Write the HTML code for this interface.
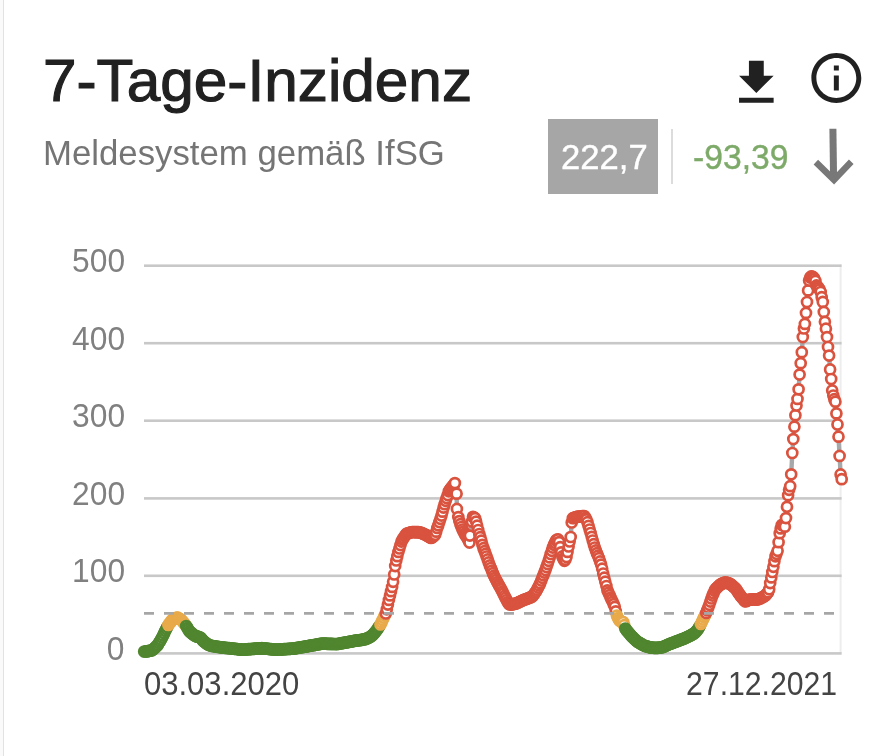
<!DOCTYPE html>
<html lang="de"><head><meta charset="utf-8"><title>7-Tage-Inzidenz</title>
<style>
html,body{margin:0;padding:0;background:#fff;}
body{width:879px;height:756px;position:relative;overflow:hidden;font-family:"Liberation Sans",sans-serif;}
.edge{position:absolute;left:0;top:0;width:3px;height:756px;background:#fafafa;}
.edge2{position:absolute;left:3px;top:0;width:1px;height:756px;background:#e2e2e2;}
.t{position:absolute;white-space:nowrap;line-height:1;transform-origin:0 0;}
#title{left:43.2px;top:51.0px;font-size:60px;color:#212121;-webkit-text-stroke:1.1px #212121;transform:scaleX(1.005);}
#sub{left:43.4px;top:136.3px;font-size:36.1px;color:#757575;transform:scale(0.9637,0.96);}
#box{position:absolute;left:548px;top:119px;width:110px;height:74.6px;background:#a6a6a6;}
#val{left:560.6px;top:140.4px;font-size:36px;color:#fff;transform:scale(0.962,0.965);-webkit-text-stroke:0.4px #fff;}
#div{position:absolute;left:671.1px;top:129px;width:1.6px;height:55px;background:#dcdcdc;}
#delta{left:692.6px;top:140.4px;font-size:36px;color:#7daa69;transform:scale(0.935,0.965);-webkit-text-stroke:0.4px #7daa69;}
.yl{position:absolute;white-space:nowrap;line-height:1;font-size:33px;color:#808080;right:754.3px;transform-origin:100% 0;transform:scaleX(0.962);}
.xl{position:absolute;white-space:nowrap;line-height:1;font-size:33px;color:#444;}
svg{position:absolute;left:0;top:0;}
</style></head><body>
<div class="edge"></div><div class="edge2"></div>
<div id="title" class="t">7-Tage-Inzidenz</div>
<div id="sub" class="t">Meldesystem gemäß IfSG</div>
<div id="box"></div>
<div id="val" class="t">222,7</div>
<div id="div"></div>
<div id="delta" class="t">-93,39</div>
<div class="yl" id="y500" style="top:244.1px">500</div><div class="yl" id="y400" style="top:321.7px">400</div><div class="yl" id="y300" style="top:399.2px">300</div><div class="yl" id="y200" style="top:476.8px">200</div><div class="yl" id="y100" style="top:554.3px">100</div><div class="yl" id="y0" style="top:631.9px">0</div>
<div class="xl" id="x1" style="left:144px;top:667.4px;transform-origin:0 0;transform:scaleX(0.94)">03.03.2020</div>
<div class="xl" id="x2" style="right:41.6px;top:667.4px;transform-origin:100% 0;transform:scaleX(0.915)">27.12.2021</div>
<svg width="879" height="756" viewBox="0 0 879 756">
<g id="icons" fill="#212121">
<g transform="translate(726.7 53.4) scale(2.47)"><path d="M19 9h-4V3H9v6H5l7 7 7-7zM5 18v2h14v-2H5z"/></g>
<g transform="translate(806.4 48) scale(2.495)"><path d="M11 17h2v-6h-2v6zm1-15C6.48 2 2 6.48 2 12s4.480 10 10 10 10-4.480 10-10S17.520 2 12 2zm0 18c-4.410 0-8-3.590-8-8s3.590-8 8-8 8 3.590 8 8-3.590 8-8 8zM11 9h2V7h-2v2z"/></g>
</g>
<g id="arrow" fill="none" stroke="#787878">
<path d="M832.9 128.7 L833.6 180" stroke-width="7"/>
<path d="M815.85 162.15 L834 179.9 L851.25 161.75" stroke-width="6.4" stroke-linejoin="miter"/>
</g>
<rect x="839.6" y="264.4" width="2" height="390" fill="#ededed"/>
<rect x="144" y="264.4" width="697.6" height="2.6" fill="#c8c8c8"/><rect x="144" y="341.9" width="697.6" height="2.6" fill="#c8c8c8"/><rect x="144" y="419.4" width="697.6" height="2.6" fill="#c8c8c8"/><rect x="144" y="497.1" width="697.6" height="2.6" fill="#c8c8c8"/><rect x="144" y="574.5" width="697.6" height="2.6" fill="#c8c8c8"/><rect x="144" y="652.1" width="697.6" height="2.6" fill="#c8c8c8"/>
<path d="M144.2 651.5 L145.3 651.5 L146.3 651.4 L147.4 651.2 L148.4 651.0 L149.5 650.8 L150.5 650.6 L151.6 650.4 L152.6 649.8 L153.7 648.9 L154.7 647.9 L155.8 646.9 L156.8 645.9 L157.9 644.9 L158.9 643.1 L160.0 641.3 L161.0 639.5 L162.1 637.5 L163.1 635.4 L164.2 633.2 L165.2 631.1 L166.3 629.0 L167.3 626.9 L168.4 625.0 L169.4 623.6 L170.5 622.2 L171.5 620.8 L172.6 619.5 L173.6 619.0 L174.7 618.5 L175.7 618.0 L176.8 617.5 L177.8 617.7 L178.9 618.4 L179.9 619.0 L181.0 619.7 L182.0 620.7 L183.1 622.0 L184.1 623.3 L185.2 624.7 L186.2 626.0 L187.3 627.8 L188.3 629.5 L189.4 631.2 L190.4 632.2 L191.5 633.0 L192.5 633.9 L193.6 634.7 L194.6 635.5 L195.7 636.1 L196.7 636.4 L197.8 636.7 L198.8 637.0 L199.9 637.3 L200.9 638.1 L202.0 639.4 L203.0 640.7 L204.1 641.6 L205.1 642.4 L206.2 643.2 L207.2 644.0 L208.3 644.7 L209.3 645.1 L210.4 645.5 L211.4 645.8 L212.5 646.0 L213.5 646.1 L214.6 646.3 L215.6 646.5 L216.7 646.7 L217.7 646.9 L218.8 647.0 L219.8 647.1 L220.9 647.3 L221.9 647.4 L223.0 647.5 L224.0 647.7 L225.1 647.8 L226.1 647.9 L227.2 648.0 L228.2 648.1 L229.3 648.2 L230.3 648.3 L231.4 648.4 L232.4 648.5 L233.5 648.6 L234.5 648.8 L235.6 648.9 L236.6 649.0 L237.7 649.1 L238.7 649.3 L239.8 649.4 L240.8 649.6 L241.9 649.7 L242.9 649.6 L244.0 649.6 L245.0 649.5 L246.1 649.4 L247.1 649.3 L248.2 649.2 L249.2 649.2 L250.3 649.1 L251.3 649.0 L252.4 648.9 L253.4 648.8 L254.5 648.8 L255.5 648.7 L256.6 648.6 L257.6 648.5 L258.7 648.4 L259.7 648.4 L260.8 648.3 L261.8 648.2 L262.9 648.3 L263.9 648.4 L265.0 648.5 L266.0 648.6 L267.1 648.7 L268.1 648.8 L269.2 649.0 L270.2 649.1 L271.3 649.2 L272.3 649.3 L273.4 649.4 L274.4 649.5 L275.5 649.6 L276.6 649.7 L277.6 649.6 L278.7 649.5 L279.7 649.5 L280.8 649.4 L281.8 649.3 L282.9 649.3 L283.9 649.2 L285.0 649.1 L286.0 649.1 L287.1 649.0 L288.1 648.9 L289.2 648.9 L290.2 648.8 L291.3 648.7 L292.3 648.7 L293.4 648.6 L294.4 648.4 L295.5 648.2 L296.5 648.1 L297.6 647.9 L298.6 647.7 L299.7 647.5 L300.7 647.3 L301.8 647.2 L302.8 647.0 L303.9 646.8 L304.9 646.6 L306.0 646.4 L307.0 646.3 L308.1 646.1 L309.1 645.9 L310.2 645.7 L311.2 645.5 L312.3 645.3 L313.3 645.2 L314.4 645.0 L315.4 644.8 L316.5 644.6 L317.5 644.4 L318.6 644.2 L319.6 644.0 L320.7 643.8 L321.7 643.7 L322.8 643.6 L323.8 643.7 L324.9 643.7 L325.9 643.7 L327.0 643.8 L328.0 643.8 L329.1 643.8 L330.1 643.9 L331.2 643.9 L332.2 643.9 L333.3 644.0 L334.3 644.0 L335.4 644.0 L336.4 644.1 L337.5 644.0 L338.5 643.8 L339.6 643.6 L340.6 643.4 L341.7 643.2 L342.7 643.0 L343.8 642.8 L344.8 642.6 L345.9 642.4 L346.9 642.3 L348.0 642.1 L349.0 641.9 L350.1 641.7 L351.1 641.5 L352.2 641.3 L353.2 641.1 L354.3 640.9 L355.3 640.7 L356.4 640.6 L357.4 640.4 L358.5 640.3 L359.5 640.2 L360.6 640.0 L361.6 639.9 L362.7 639.6 L363.7 639.4 L364.8 639.2 L365.8 638.9 L366.9 638.5 L367.9 638.0 L369.0 637.5 L370.0 636.9 L371.1 636.2 L372.1 635.4 L373.2 634.6 L374.2 633.3 L375.3 632.1 L376.3 630.8 L377.4 629.2 L378.4 627.6 L379.5 626.0 L380.5 624.4 L381.6 622.2 L382.6 619.9 L383.7 617.7 L384.7 615.6 L385.8 613.5 L386.8 609.3 L387.9 604.6 L388.9 599.9 L390.0 595.4 L391.0 591.2 L392.1 586.9 L393.1 581.8 L394.2 574.5 L395.2 566.1 L396.3 560.5 L397.3 556.2 L398.4 551.9 L399.4 548.5 L400.5 545.1 L401.5 541.6 L402.6 539.4 L403.6 537.9 L404.7 536.3 L405.7 534.7 L406.8 533.6 L407.9 533.3 L408.9 533.0 L410.0 532.6 L411.0 532.3 L412.1 532.0 L413.1 532.0 L414.2 532.1 L415.2 532.1 L416.3 532.2 L417.3 532.2 L418.4 532.2 L419.4 532.3 L420.5 532.5 L421.5 532.9 L422.6 533.4 L423.6 533.9 L424.7 534.3 L425.7 534.8 L426.8 535.4 L427.8 536.1 L428.9 536.7 L429.9 537.3 L431.0 537.9 L432.0 537.6 L433.1 536.7 L434.1 535.8 L435.2 534.8 L436.2 531.7 L437.3 528.0 L438.3 525.3 L439.4 522.1 L440.4 518.8 L441.5 515.6 L442.5 511.7 L443.6 507.6 L444.6 504.2 L445.7 500.8 L446.7 498.1 L447.8 495.1 L448.8 491.3 L449.9 489.7 L450.9 488.2 L452.0 486.9 L453.0 485.7 L454.1 484.4 L454.9 483.1 L456.6 493.7 L456.9 508.9 L458.3 517.1 L459.3 521.1 L460.4 524.2 L461.4 527.0 L462.5 529.5 L463.5 531.6 L464.6 533.7 L465.6 535.4 L466.7 537.1 L467.7 538.8 L468.6 540.6 L469.5 542.6 L469.9 535.6 L471.9 521.6 L473.0 516.8 L474.0 517.5 L475.1 518.2 L476.1 521.6 L477.2 525.7 L478.2 530.0 L479.3 534.0 L480.3 537.2 L481.4 540.7 L482.4 544.8 L483.5 548.2 L484.5 551.1 L485.6 553.8 L486.6 556.5 L487.7 559.4 L488.7 562.4 L489.8 565.4 L490.8 568.0 L491.9 570.6 L492.9 573.2 L494.0 575.7 L495.0 577.8 L496.1 579.9 L497.1 582.1 L498.2 583.9 L499.2 585.7 L500.3 587.6 L501.3 589.5 L502.4 591.6 L503.4 593.7 L504.5 595.9 L505.5 597.9 L506.6 600.0 L507.6 602.1 L508.7 603.7 L509.7 604.5 L510.8 604.6 L511.8 604.4 L512.9 604.2 L513.9 604.0 L515.0 603.7 L516.0 603.5 L517.1 603.1 L518.1 602.6 L519.2 602.1 L520.2 601.5 L521.3 601.0 L522.3 600.5 L523.4 600.0 L524.4 599.6 L525.5 599.3 L526.5 598.9 L527.6 598.5 L528.6 598.1 L529.7 597.7 L530.7 597.2 L531.8 596.7 L532.8 596.1 L533.9 594.6 L534.9 593.1 L536.0 591.5 L537.0 589.7 L538.1 587.6 L539.2 585.4 L540.2 583.3 L541.3 580.6 L542.3 577.8 L543.4 575.2 L544.4 572.6 L545.5 570.1 L546.5 567.1 L547.6 563.9 L548.6 560.8 L549.7 557.4 L550.7 554.1 L551.8 550.8 L552.8 547.6 L553.9 544.8 L554.9 542.7 L556.0 540.6 L557.0 539.5 L558.1 539.4 L559.1 542.1 L560.2 547.2 L561.2 552.3 L562.3 556.4 L563.3 558.7 L564.4 560.8 L565.4 559.7 L566.5 557.0 L567.5 551.9 L568.6 546.5 L569.6 541.5 L570.7 537.0 L571.7 522.5 L572.8 518.2 L573.8 517.9 L574.9 517.5 L575.9 517.2 L577.0 516.8 L578.0 516.7 L579.1 516.6 L580.1 516.5 L581.2 516.3 L582.2 516.2 L583.3 516.1 L584.3 516.0 L585.4 517.8 L586.4 519.5 L587.5 522.2 L588.5 525.9 L589.6 529.5 L590.6 533.0 L591.7 536.8 L592.7 540.5 L593.8 544.2 L594.8 547.5 L595.9 550.4 L596.9 553.2 L598.0 555.7 L599.0 558.2 L600.1 561.4 L601.1 564.6 L602.2 568.7 L603.2 573.5 L604.3 577.7 L605.3 581.7 L606.4 586.0 L607.4 590.3 L608.5 592.7 L609.5 595.1 L610.6 597.6 L611.6 599.7 L612.7 601.8 L613.7 604.2 L614.8 606.8 L615.8 611.3 L616.9 615.6 L617.9 618.1 L619.0 619.9 L620.0 620.9 L621.1 621.5 L622.1 621.8 L623.2 622.1 L624.2 625.2 L625.3 628.6 L626.3 629.9 L627.4 631.2 L628.4 632.5 L629.5 633.8 L630.5 635.0 L631.6 636.2 L632.6 637.2 L633.7 638.2 L634.7 639.3 L635.8 640.3 L636.8 641.3 L637.9 642.0 L638.9 642.6 L640.0 643.2 L641.0 643.8 L642.1 644.4 L643.1 645.0 L644.2 645.6 L645.2 646.0 L646.3 646.3 L647.3 646.6 L648.4 646.9 L649.4 647.1 L650.5 647.4 L651.5 647.7 L652.6 647.7 L653.6 647.8 L654.7 647.8 L655.7 647.9 L656.8 647.9 L657.8 647.8 L658.9 647.7 L659.9 647.6 L661.0 647.5 L662.0 647.2 L663.1 646.9 L664.1 646.5 L665.2 646.0 L666.2 645.5 L667.3 645.0 L668.3 644.6 L669.4 644.1 L670.5 643.7 L671.5 643.3 L672.6 642.9 L673.6 642.5 L674.7 642.1 L675.7 641.7 L676.8 641.3 L677.8 640.9 L678.9 640.5 L679.9 640.1 L681.0 639.7 L682.0 639.3 L683.1 638.9 L684.1 638.5 L685.2 638.1 L686.2 637.6 L687.3 637.1 L688.3 636.5 L689.4 636.0 L690.4 635.5 L691.5 634.9 L692.5 634.3 L693.6 633.7 L694.6 633.1 L695.7 632.0 L696.7 630.8 L697.8 629.5 L698.8 627.7 L699.9 625.9 L700.9 623.9 L702.0 621.7 L703.0 619.5 L704.1 617.3 L705.1 615.2 L706.2 612.9 L707.2 610.2 L708.3 607.6 L709.3 604.8 L710.4 601.6 L711.4 598.5 L712.5 595.6 L713.5 593.2 L714.6 590.8 L715.6 589.1 L716.7 588.0 L717.7 587.0 L718.8 585.9 L719.8 584.9 L720.9 584.2 L721.9 583.7 L723.0 583.3 L724.0 582.8 L725.1 582.3 L726.1 582.5 L727.2 582.8 L728.2 583.2 L729.3 583.5 L730.3 583.9 L731.4 584.8 L732.4 585.7 L733.5 586.7 L734.5 587.6 L735.6 588.6 L736.6 590.1 L737.7 591.7 L738.7 593.2 L739.8 594.7 L740.8 596.2 L741.9 597.4 L742.9 598.7 L744.0 600.0 L745.0 601.3 L746.1 601.2 L747.1 600.7 L748.2 600.1 L749.2 599.7 L750.3 599.6 L751.3 599.5 L752.4 599.4 L753.4 599.4 L754.5 599.5 L755.5 599.5 L756.6 599.6 L757.6 599.4 L758.7 599.0 L759.7 598.6 L760.8 598.2 L761.8 597.6 L762.9 597.1 L763.9 596.4 L765.0 595.7 L766.0 595.0 L767.1 593.6 L768.1 592.3 L769.2 589.3 L770.2 583.1 L771.3 577.4 L772.3 572.0 L773.4 566.8 L774.4 561.2 L775.5 556.3 L776.5 553.8 L777.6 550.8 L778.6 542.2 L779.7 533.2 L780.7 528.4 L781.8 525.0 L782.8 524.6 L783.9 525.2 L784.9 526.7 L786.0 518.1 L787.0 506.8 L788.1 495.2 L789.1 489.8 L790.2 486.2 L791.2 474.3 L792.3 453.0 L793.3 439.1 L794.4 426.7 L795.4 415.2 L796.5 405.5 L797.5 398.9 L798.6 389.3 L799.6 374.6 L800.7 363.2 L801.8 352.2 L802.8 337.1 L803.9 328.5 L804.9 323.9 L806.0 312.9 L807.0 302.0 L808.1 290.4 L809.1 280.5 L810.2 277.6 L811.2 276.4 L812.3 276.5 L813.3 277.3 L814.4 278.8 L815.4 280.9 L816.5 285.4 L817.5 286.6 L818.6 287.9 L819.6 289.6 L820.7 292.0 L821.7 297.2 L822.8 301.9 L823.8 311.9 L824.9 321.8 L825.9 328.7 L827.0 337.1 L828.0 347.0 L829.1 355.6 L830.1 369.4 L831.2 379.0 L832.2 390.4 L833.3 395.5 L834.3 399.2 L835.4 401.7 L836.4 413.4 L837.5 424.5 L838.5 436.7 L839.6 455.9 L840.6 474.4 L841.7 479.2" fill="none" stroke="#a6a8aa" stroke-width="4.4" stroke-linejoin="round"/>
<g fill="#fff" stroke-width="2.7">
<g stroke="#50862f"><circle cx="144.2" cy="651.5" r="5"/><circle cx="145.3" cy="651.5" r="5"/><circle cx="146.3" cy="651.4" r="5"/><circle cx="147.4" cy="651.2" r="5"/><circle cx="148.4" cy="651.0" r="5"/><circle cx="149.5" cy="650.8" r="5"/><circle cx="150.5" cy="650.6" r="5"/><circle cx="151.6" cy="650.4" r="5"/><circle cx="152.6" cy="649.8" r="5"/><circle cx="153.7" cy="648.9" r="5"/><circle cx="154.7" cy="647.9" r="5"/><circle cx="155.8" cy="646.9" r="5"/><circle cx="156.8" cy="645.9" r="5"/><circle cx="157.9" cy="644.9" r="5"/><circle cx="158.9" cy="643.1" r="5"/><circle cx="160.0" cy="641.3" r="5"/><circle cx="161.0" cy="639.5" r="5"/><circle cx="162.1" cy="637.5" r="5"/><circle cx="163.1" cy="635.4" r="5"/><circle cx="164.2" cy="633.2" r="5"/><circle cx="165.2" cy="631.1" r="5"/><circle cx="166.3" cy="629.0" r="5"/><circle cx="167.3" cy="626.9" r="5"/></g><g stroke="#e8aa4a"><circle cx="168.4" cy="625.0" r="5"/><circle cx="169.4" cy="623.6" r="5"/><circle cx="170.5" cy="622.2" r="5"/><circle cx="171.5" cy="620.8" r="5"/><circle cx="172.6" cy="619.5" r="5"/><circle cx="173.6" cy="619.0" r="5"/><circle cx="174.7" cy="618.5" r="5"/><circle cx="175.7" cy="618.0" r="5"/><circle cx="176.8" cy="617.5" r="5"/><circle cx="177.8" cy="617.7" r="5"/><circle cx="178.9" cy="618.4" r="5"/><circle cx="179.9" cy="619.0" r="5"/><circle cx="181.0" cy="619.7" r="5"/><circle cx="182.0" cy="620.7" r="5"/><circle cx="183.1" cy="622.0" r="5"/><circle cx="184.1" cy="623.3" r="5"/><circle cx="185.2" cy="624.7" r="5"/></g><g stroke="#50862f"><circle cx="186.2" cy="626.0" r="5"/><circle cx="187.3" cy="627.8" r="5"/><circle cx="188.3" cy="629.5" r="5"/><circle cx="189.4" cy="631.2" r="5"/><circle cx="190.4" cy="632.2" r="5"/><circle cx="191.5" cy="633.0" r="5"/><circle cx="192.5" cy="633.9" r="5"/><circle cx="193.6" cy="634.7" r="5"/><circle cx="194.6" cy="635.5" r="5"/><circle cx="195.7" cy="636.1" r="5"/><circle cx="196.7" cy="636.4" r="5"/><circle cx="197.8" cy="636.7" r="5"/><circle cx="198.8" cy="637.0" r="5"/><circle cx="199.9" cy="637.3" r="5"/><circle cx="200.9" cy="638.1" r="5"/><circle cx="202.0" cy="639.4" r="5"/><circle cx="203.0" cy="640.7" r="5"/><circle cx="204.1" cy="641.6" r="5"/><circle cx="205.1" cy="642.4" r="5"/><circle cx="206.2" cy="643.2" r="5"/><circle cx="207.2" cy="644.0" r="5"/><circle cx="208.3" cy="644.7" r="5"/><circle cx="209.3" cy="645.1" r="5"/><circle cx="210.4" cy="645.5" r="5"/><circle cx="211.4" cy="645.8" r="5"/><circle cx="212.5" cy="646.0" r="5"/><circle cx="213.5" cy="646.1" r="5"/><circle cx="214.6" cy="646.3" r="5"/><circle cx="215.6" cy="646.5" r="5"/><circle cx="216.7" cy="646.7" r="5"/><circle cx="217.7" cy="646.9" r="5"/><circle cx="218.8" cy="647.0" r="5"/><circle cx="219.8" cy="647.1" r="5"/><circle cx="220.9" cy="647.3" r="5"/><circle cx="221.9" cy="647.4" r="5"/><circle cx="223.0" cy="647.5" r="5"/><circle cx="224.0" cy="647.7" r="5"/><circle cx="225.1" cy="647.8" r="5"/><circle cx="226.1" cy="647.9" r="5"/><circle cx="227.2" cy="648.0" r="5"/><circle cx="228.2" cy="648.1" r="5"/><circle cx="229.3" cy="648.2" r="5"/><circle cx="230.3" cy="648.3" r="5"/><circle cx="231.4" cy="648.4" r="5"/><circle cx="232.4" cy="648.5" r="5"/><circle cx="233.5" cy="648.6" r="5"/><circle cx="234.5" cy="648.8" r="5"/><circle cx="235.6" cy="648.9" r="5"/><circle cx="236.6" cy="649.0" r="5"/><circle cx="237.7" cy="649.1" r="5"/><circle cx="238.7" cy="649.3" r="5"/><circle cx="239.8" cy="649.4" r="5"/><circle cx="240.8" cy="649.6" r="5"/><circle cx="241.9" cy="649.7" r="5"/><circle cx="242.9" cy="649.6" r="5"/><circle cx="244.0" cy="649.6" r="5"/><circle cx="245.0" cy="649.5" r="5"/><circle cx="246.1" cy="649.4" r="5"/><circle cx="247.1" cy="649.3" r="5"/><circle cx="248.2" cy="649.2" r="5"/><circle cx="249.2" cy="649.2" r="5"/><circle cx="250.3" cy="649.1" r="5"/><circle cx="251.3" cy="649.0" r="5"/><circle cx="252.4" cy="648.9" r="5"/><circle cx="253.4" cy="648.8" r="5"/><circle cx="254.5" cy="648.8" r="5"/><circle cx="255.5" cy="648.7" r="5"/><circle cx="256.6" cy="648.6" r="5"/><circle cx="257.6" cy="648.5" r="5"/><circle cx="258.7" cy="648.4" r="5"/><circle cx="259.7" cy="648.4" r="5"/><circle cx="260.8" cy="648.3" r="5"/><circle cx="261.8" cy="648.2" r="5"/><circle cx="262.9" cy="648.3" r="5"/><circle cx="263.9" cy="648.4" r="5"/><circle cx="265.0" cy="648.5" r="5"/><circle cx="266.0" cy="648.6" r="5"/><circle cx="267.1" cy="648.7" r="5"/><circle cx="268.1" cy="648.8" r="5"/><circle cx="269.2" cy="649.0" r="5"/><circle cx="270.2" cy="649.1" r="5"/><circle cx="271.3" cy="649.2" r="5"/><circle cx="272.3" cy="649.3" r="5"/><circle cx="273.4" cy="649.4" r="5"/><circle cx="274.4" cy="649.5" r="5"/><circle cx="275.5" cy="649.6" r="5"/><circle cx="276.6" cy="649.7" r="5"/><circle cx="277.6" cy="649.6" r="5"/><circle cx="278.7" cy="649.5" r="5"/><circle cx="279.7" cy="649.5" r="5"/><circle cx="280.8" cy="649.4" r="5"/><circle cx="281.8" cy="649.3" r="5"/><circle cx="282.9" cy="649.3" r="5"/><circle cx="283.9" cy="649.2" r="5"/><circle cx="285.0" cy="649.1" r="5"/><circle cx="286.0" cy="649.1" r="5"/><circle cx="287.1" cy="649.0" r="5"/><circle cx="288.1" cy="648.9" r="5"/><circle cx="289.2" cy="648.9" r="5"/><circle cx="290.2" cy="648.8" r="5"/><circle cx="291.3" cy="648.7" r="5"/><circle cx="292.3" cy="648.7" r="5"/><circle cx="293.4" cy="648.6" r="5"/><circle cx="294.4" cy="648.4" r="5"/><circle cx="295.5" cy="648.2" r="5"/><circle cx="296.5" cy="648.1" r="5"/><circle cx="297.6" cy="647.9" r="5"/><circle cx="298.6" cy="647.7" r="5"/><circle cx="299.7" cy="647.5" r="5"/><circle cx="300.7" cy="647.3" r="5"/><circle cx="301.8" cy="647.2" r="5"/><circle cx="302.8" cy="647.0" r="5"/><circle cx="303.9" cy="646.8" r="5"/><circle cx="304.9" cy="646.6" r="5"/><circle cx="306.0" cy="646.4" r="5"/><circle cx="307.0" cy="646.3" r="5"/><circle cx="308.1" cy="646.1" r="5"/><circle cx="309.1" cy="645.9" r="5"/><circle cx="310.2" cy="645.7" r="5"/><circle cx="311.2" cy="645.5" r="5"/><circle cx="312.3" cy="645.3" r="5"/><circle cx="313.3" cy="645.2" r="5"/><circle cx="314.4" cy="645.0" r="5"/><circle cx="315.4" cy="644.8" r="5"/><circle cx="316.5" cy="644.6" r="5"/><circle cx="317.5" cy="644.4" r="5"/><circle cx="318.6" cy="644.2" r="5"/><circle cx="319.6" cy="644.0" r="5"/><circle cx="320.7" cy="643.8" r="5"/><circle cx="321.7" cy="643.7" r="5"/><circle cx="322.8" cy="643.6" r="5"/><circle cx="323.8" cy="643.7" r="5"/><circle cx="324.9" cy="643.7" r="5"/><circle cx="325.9" cy="643.7" r="5"/><circle cx="327.0" cy="643.8" r="5"/><circle cx="328.0" cy="643.8" r="5"/><circle cx="329.1" cy="643.8" r="5"/><circle cx="330.1" cy="643.9" r="5"/><circle cx="331.2" cy="643.9" r="5"/><circle cx="332.2" cy="643.9" r="5"/><circle cx="333.3" cy="644.0" r="5"/><circle cx="334.3" cy="644.0" r="5"/><circle cx="335.4" cy="644.0" r="5"/><circle cx="336.4" cy="644.1" r="5"/><circle cx="337.5" cy="644.0" r="5"/><circle cx="338.5" cy="643.8" r="5"/><circle cx="339.6" cy="643.6" r="5"/><circle cx="340.6" cy="643.4" r="5"/><circle cx="341.7" cy="643.2" r="5"/><circle cx="342.7" cy="643.0" r="5"/><circle cx="343.8" cy="642.8" r="5"/><circle cx="344.8" cy="642.6" r="5"/><circle cx="345.9" cy="642.4" r="5"/><circle cx="346.9" cy="642.3" r="5"/><circle cx="348.0" cy="642.1" r="5"/><circle cx="349.0" cy="641.9" r="5"/><circle cx="350.1" cy="641.7" r="5"/><circle cx="351.1" cy="641.5" r="5"/><circle cx="352.2" cy="641.3" r="5"/><circle cx="353.2" cy="641.1" r="5"/><circle cx="354.3" cy="640.9" r="5"/><circle cx="355.3" cy="640.7" r="5"/><circle cx="356.4" cy="640.6" r="5"/><circle cx="357.4" cy="640.4" r="5"/><circle cx="358.5" cy="640.3" r="5"/><circle cx="359.5" cy="640.2" r="5"/><circle cx="360.6" cy="640.0" r="5"/><circle cx="361.6" cy="639.9" r="5"/><circle cx="362.7" cy="639.6" r="5"/><circle cx="363.7" cy="639.4" r="5"/><circle cx="364.8" cy="639.2" r="5"/><circle cx="365.8" cy="638.9" r="5"/><circle cx="366.9" cy="638.5" r="5"/><circle cx="367.9" cy="638.0" r="5"/><circle cx="369.0" cy="637.5" r="5"/><circle cx="370.0" cy="636.9" r="5"/><circle cx="371.1" cy="636.2" r="5"/><circle cx="372.1" cy="635.4" r="5"/><circle cx="373.2" cy="634.6" r="5"/><circle cx="374.2" cy="633.3" r="5"/><circle cx="375.3" cy="632.1" r="5"/><circle cx="376.3" cy="630.8" r="5"/><circle cx="377.4" cy="629.2" r="5"/><circle cx="378.4" cy="627.6" r="5"/><circle cx="379.5" cy="626.0" r="5"/></g><g stroke="#e8aa4a"><circle cx="380.5" cy="624.4" r="5"/><circle cx="381.6" cy="622.2" r="5"/><circle cx="382.6" cy="619.9" r="5"/><circle cx="383.7" cy="617.7" r="5"/><circle cx="384.7" cy="615.6" r="5"/></g><g stroke="#d9533f"><circle cx="385.8" cy="613.5" r="5"/><circle cx="386.8" cy="609.3" r="5"/><circle cx="387.9" cy="604.6" r="5"/><circle cx="388.9" cy="599.9" r="5"/><circle cx="390.0" cy="595.4" r="5"/><circle cx="391.0" cy="591.2" r="5"/><circle cx="392.1" cy="586.9" r="5"/><circle cx="393.1" cy="581.8" r="5"/><circle cx="394.2" cy="574.5" r="5"/><circle cx="395.2" cy="566.1" r="5"/><circle cx="396.3" cy="560.5" r="5"/><circle cx="397.3" cy="556.2" r="5"/><circle cx="398.4" cy="551.9" r="5"/><circle cx="399.4" cy="548.5" r="5"/><circle cx="400.5" cy="545.1" r="5"/><circle cx="401.5" cy="541.6" r="5"/><circle cx="402.6" cy="539.4" r="5"/><circle cx="403.6" cy="537.9" r="5"/><circle cx="404.7" cy="536.3" r="5"/><circle cx="405.7" cy="534.7" r="5"/><circle cx="406.8" cy="533.6" r="5"/><circle cx="407.9" cy="533.3" r="5"/><circle cx="408.9" cy="533.0" r="5"/><circle cx="410.0" cy="532.6" r="5"/><circle cx="411.0" cy="532.3" r="5"/><circle cx="412.1" cy="532.0" r="5"/><circle cx="413.1" cy="532.0" r="5"/><circle cx="414.2" cy="532.1" r="5"/><circle cx="415.2" cy="532.1" r="5"/><circle cx="416.3" cy="532.2" r="5"/><circle cx="417.3" cy="532.2" r="5"/><circle cx="418.4" cy="532.2" r="5"/><circle cx="419.4" cy="532.3" r="5"/><circle cx="420.5" cy="532.5" r="5"/><circle cx="421.5" cy="532.9" r="5"/><circle cx="422.6" cy="533.4" r="5"/><circle cx="423.6" cy="533.9" r="5"/><circle cx="424.7" cy="534.3" r="5"/><circle cx="425.7" cy="534.8" r="5"/><circle cx="426.8" cy="535.4" r="5"/><circle cx="427.8" cy="536.1" r="5"/><circle cx="428.9" cy="536.7" r="5"/><circle cx="429.9" cy="537.3" r="5"/><circle cx="431.0" cy="537.9" r="5"/><circle cx="432.0" cy="537.6" r="5"/><circle cx="433.1" cy="536.7" r="5"/><circle cx="434.1" cy="535.8" r="5"/><circle cx="435.2" cy="534.8" r="5"/><circle cx="436.2" cy="531.7" r="5"/><circle cx="437.3" cy="528.0" r="5"/><circle cx="438.3" cy="525.3" r="5"/><circle cx="439.4" cy="522.1" r="5"/><circle cx="440.4" cy="518.8" r="5"/><circle cx="441.5" cy="515.6" r="5"/><circle cx="442.5" cy="511.7" r="5"/><circle cx="443.6" cy="507.6" r="5"/><circle cx="444.6" cy="504.2" r="5"/><circle cx="445.7" cy="500.8" r="5"/><circle cx="446.7" cy="498.1" r="5"/><circle cx="447.8" cy="495.1" r="5"/><circle cx="448.8" cy="491.3" r="5"/><circle cx="449.9" cy="489.7" r="5"/><circle cx="450.9" cy="488.2" r="5"/><circle cx="452.0" cy="486.9" r="5"/><circle cx="453.0" cy="485.7" r="5"/><circle cx="454.1" cy="484.4" r="5"/><circle cx="454.9" cy="483.1" r="5"/><circle cx="456.6" cy="493.7" r="5"/><circle cx="456.9" cy="508.9" r="5"/><circle cx="458.3" cy="517.1" r="5"/><circle cx="459.3" cy="521.1" r="5"/><circle cx="460.4" cy="524.2" r="5"/><circle cx="461.4" cy="527.0" r="5"/><circle cx="462.5" cy="529.5" r="5"/><circle cx="463.5" cy="531.6" r="5"/><circle cx="464.6" cy="533.7" r="5"/><circle cx="465.6" cy="535.4" r="5"/><circle cx="466.7" cy="537.1" r="5"/><circle cx="467.7" cy="538.8" r="5"/><circle cx="468.6" cy="540.6" r="5"/><circle cx="469.5" cy="542.6" r="5"/><circle cx="469.9" cy="535.6" r="5"/><circle cx="471.9" cy="521.6" r="5"/><circle cx="473.0" cy="516.8" r="5"/><circle cx="474.0" cy="517.5" r="5"/><circle cx="475.1" cy="518.2" r="5"/><circle cx="476.1" cy="521.6" r="5"/><circle cx="477.2" cy="525.7" r="5"/><circle cx="478.2" cy="530.0" r="5"/><circle cx="479.3" cy="534.0" r="5"/><circle cx="480.3" cy="537.2" r="5"/><circle cx="481.4" cy="540.7" r="5"/><circle cx="482.4" cy="544.8" r="5"/><circle cx="483.5" cy="548.2" r="5"/><circle cx="484.5" cy="551.1" r="5"/><circle cx="485.6" cy="553.8" r="5"/><circle cx="486.6" cy="556.5" r="5"/><circle cx="487.7" cy="559.4" r="5"/><circle cx="488.7" cy="562.4" r="5"/><circle cx="489.8" cy="565.4" r="5"/><circle cx="490.8" cy="568.0" r="5"/><circle cx="491.9" cy="570.6" r="5"/><circle cx="492.9" cy="573.2" r="5"/><circle cx="494.0" cy="575.7" r="5"/><circle cx="495.0" cy="577.8" r="5"/><circle cx="496.1" cy="579.9" r="5"/><circle cx="497.1" cy="582.1" r="5"/><circle cx="498.2" cy="583.9" r="5"/><circle cx="499.2" cy="585.7" r="5"/><circle cx="500.3" cy="587.6" r="5"/><circle cx="501.3" cy="589.5" r="5"/><circle cx="502.4" cy="591.6" r="5"/><circle cx="503.4" cy="593.7" r="5"/><circle cx="504.5" cy="595.9" r="5"/><circle cx="505.5" cy="597.9" r="5"/><circle cx="506.6" cy="600.0" r="5"/><circle cx="507.6" cy="602.1" r="5"/><circle cx="508.7" cy="603.7" r="5"/><circle cx="509.7" cy="604.5" r="5"/><circle cx="510.8" cy="604.6" r="5"/><circle cx="511.8" cy="604.4" r="5"/><circle cx="512.9" cy="604.2" r="5"/><circle cx="513.9" cy="604.0" r="5"/><circle cx="515.0" cy="603.7" r="5"/><circle cx="516.0" cy="603.5" r="5"/><circle cx="517.1" cy="603.1" r="5"/><circle cx="518.1" cy="602.6" r="5"/><circle cx="519.2" cy="602.1" r="5"/><circle cx="520.2" cy="601.5" r="5"/><circle cx="521.3" cy="601.0" r="5"/><circle cx="522.3" cy="600.5" r="5"/><circle cx="523.4" cy="600.0" r="5"/><circle cx="524.4" cy="599.6" r="5"/><circle cx="525.5" cy="599.3" r="5"/><circle cx="526.5" cy="598.9" r="5"/><circle cx="527.6" cy="598.5" r="5"/><circle cx="528.6" cy="598.1" r="5"/><circle cx="529.7" cy="597.7" r="5"/><circle cx="530.7" cy="597.2" r="5"/><circle cx="531.8" cy="596.7" r="5"/><circle cx="532.8" cy="596.1" r="5"/><circle cx="533.9" cy="594.6" r="5"/><circle cx="534.9" cy="593.1" r="5"/><circle cx="536.0" cy="591.5" r="5"/><circle cx="537.0" cy="589.7" r="5"/><circle cx="538.1" cy="587.6" r="5"/><circle cx="539.2" cy="585.4" r="5"/><circle cx="540.2" cy="583.3" r="5"/><circle cx="541.3" cy="580.6" r="5"/><circle cx="542.3" cy="577.8" r="5"/><circle cx="543.4" cy="575.2" r="5"/><circle cx="544.4" cy="572.6" r="5"/><circle cx="545.5" cy="570.1" r="5"/><circle cx="546.5" cy="567.1" r="5"/><circle cx="547.6" cy="563.9" r="5"/><circle cx="548.6" cy="560.8" r="5"/><circle cx="549.7" cy="557.4" r="5"/><circle cx="550.7" cy="554.1" r="5"/><circle cx="551.8" cy="550.8" r="5"/><circle cx="552.8" cy="547.6" r="5"/><circle cx="553.9" cy="544.8" r="5"/><circle cx="554.9" cy="542.7" r="5"/><circle cx="556.0" cy="540.6" r="5"/><circle cx="557.0" cy="539.5" r="5"/><circle cx="558.1" cy="539.4" r="5"/><circle cx="559.1" cy="542.1" r="5"/><circle cx="560.2" cy="547.2" r="5"/><circle cx="561.2" cy="552.3" r="5"/><circle cx="562.3" cy="556.4" r="5"/><circle cx="563.3" cy="558.7" r="5"/><circle cx="564.4" cy="560.8" r="5"/><circle cx="565.4" cy="559.7" r="5"/><circle cx="566.5" cy="557.0" r="5"/><circle cx="567.5" cy="551.9" r="5"/><circle cx="568.6" cy="546.5" r="5"/><circle cx="569.6" cy="541.5" r="5"/><circle cx="570.7" cy="537.0" r="5"/><circle cx="571.7" cy="522.5" r="5"/><circle cx="572.8" cy="518.2" r="5"/><circle cx="573.8" cy="517.9" r="5"/><circle cx="574.9" cy="517.5" r="5"/><circle cx="575.9" cy="517.2" r="5"/><circle cx="577.0" cy="516.8" r="5"/><circle cx="578.0" cy="516.7" r="5"/><circle cx="579.1" cy="516.6" r="5"/><circle cx="580.1" cy="516.5" r="5"/><circle cx="581.2" cy="516.3" r="5"/><circle cx="582.2" cy="516.2" r="5"/><circle cx="583.3" cy="516.1" r="5"/><circle cx="584.3" cy="516.0" r="5"/><circle cx="585.4" cy="517.8" r="5"/><circle cx="586.4" cy="519.5" r="5"/><circle cx="587.5" cy="522.2" r="5"/><circle cx="588.5" cy="525.9" r="5"/><circle cx="589.6" cy="529.5" r="5"/><circle cx="590.6" cy="533.0" r="5"/><circle cx="591.7" cy="536.8" r="5"/><circle cx="592.7" cy="540.5" r="5"/><circle cx="593.8" cy="544.2" r="5"/><circle cx="594.8" cy="547.5" r="5"/><circle cx="595.9" cy="550.4" r="5"/><circle cx="596.9" cy="553.2" r="5"/><circle cx="598.0" cy="555.7" r="5"/><circle cx="599.0" cy="558.2" r="5"/><circle cx="600.1" cy="561.4" r="5"/><circle cx="601.1" cy="564.6" r="5"/><circle cx="602.2" cy="568.7" r="5"/><circle cx="603.2" cy="573.5" r="5"/><circle cx="604.3" cy="577.7" r="5"/><circle cx="605.3" cy="581.7" r="5"/><circle cx="606.4" cy="586.0" r="5"/><circle cx="607.4" cy="590.3" r="5"/><circle cx="608.5" cy="592.7" r="5"/><circle cx="609.5" cy="595.1" r="5"/><circle cx="610.6" cy="597.6" r="5"/><circle cx="611.6" cy="599.7" r="5"/><circle cx="612.7" cy="601.8" r="5"/><circle cx="613.7" cy="604.2" r="5"/><circle cx="614.8" cy="606.8" r="5"/><circle cx="615.8" cy="611.3" r="5"/></g><g stroke="#e8aa4a"><circle cx="616.9" cy="615.6" r="5"/><circle cx="617.9" cy="618.1" r="5"/><circle cx="619.0" cy="619.9" r="5"/><circle cx="620.0" cy="620.9" r="5"/><circle cx="621.1" cy="621.5" r="5"/><circle cx="622.1" cy="621.8" r="5"/><circle cx="623.2" cy="622.1" r="5"/><circle cx="624.2" cy="625.2" r="5"/></g><g stroke="#50862f"><circle cx="625.3" cy="628.6" r="5"/><circle cx="626.3" cy="629.9" r="5"/><circle cx="627.4" cy="631.2" r="5"/><circle cx="628.4" cy="632.5" r="5"/><circle cx="629.5" cy="633.8" r="5"/><circle cx="630.5" cy="635.0" r="5"/><circle cx="631.6" cy="636.2" r="5"/><circle cx="632.6" cy="637.2" r="5"/><circle cx="633.7" cy="638.2" r="5"/><circle cx="634.7" cy="639.3" r="5"/><circle cx="635.8" cy="640.3" r="5"/><circle cx="636.8" cy="641.3" r="5"/><circle cx="637.9" cy="642.0" r="5"/><circle cx="638.9" cy="642.6" r="5"/><circle cx="640.0" cy="643.2" r="5"/><circle cx="641.0" cy="643.8" r="5"/><circle cx="642.1" cy="644.4" r="5"/><circle cx="643.1" cy="645.0" r="5"/><circle cx="644.2" cy="645.6" r="5"/><circle cx="645.2" cy="646.0" r="5"/><circle cx="646.3" cy="646.3" r="5"/><circle cx="647.3" cy="646.6" r="5"/><circle cx="648.4" cy="646.9" r="5"/><circle cx="649.4" cy="647.1" r="5"/><circle cx="650.5" cy="647.4" r="5"/><circle cx="651.5" cy="647.7" r="5"/><circle cx="652.6" cy="647.7" r="5"/><circle cx="653.6" cy="647.8" r="5"/><circle cx="654.7" cy="647.8" r="5"/><circle cx="655.7" cy="647.9" r="5"/><circle cx="656.8" cy="647.9" r="5"/><circle cx="657.8" cy="647.8" r="5"/><circle cx="658.9" cy="647.7" r="5"/><circle cx="659.9" cy="647.6" r="5"/><circle cx="661.0" cy="647.5" r="5"/><circle cx="662.0" cy="647.2" r="5"/><circle cx="663.1" cy="646.9" r="5"/><circle cx="664.1" cy="646.5" r="5"/><circle cx="665.2" cy="646.0" r="5"/><circle cx="666.2" cy="645.5" r="5"/><circle cx="667.3" cy="645.0" r="5"/><circle cx="668.3" cy="644.6" r="5"/><circle cx="669.4" cy="644.1" r="5"/><circle cx="670.5" cy="643.7" r="5"/><circle cx="671.5" cy="643.3" r="5"/><circle cx="672.6" cy="642.9" r="5"/><circle cx="673.6" cy="642.5" r="5"/><circle cx="674.7" cy="642.1" r="5"/><circle cx="675.7" cy="641.7" r="5"/><circle cx="676.8" cy="641.3" r="5"/><circle cx="677.8" cy="640.9" r="5"/><circle cx="678.9" cy="640.5" r="5"/><circle cx="679.9" cy="640.1" r="5"/><circle cx="681.0" cy="639.7" r="5"/><circle cx="682.0" cy="639.3" r="5"/><circle cx="683.1" cy="638.9" r="5"/><circle cx="684.1" cy="638.5" r="5"/><circle cx="685.2" cy="638.1" r="5"/><circle cx="686.2" cy="637.6" r="5"/><circle cx="687.3" cy="637.1" r="5"/><circle cx="688.3" cy="636.5" r="5"/><circle cx="689.4" cy="636.0" r="5"/><circle cx="690.4" cy="635.5" r="5"/><circle cx="691.5" cy="634.9" r="5"/><circle cx="692.5" cy="634.3" r="5"/><circle cx="693.6" cy="633.7" r="5"/><circle cx="694.6" cy="633.1" r="5"/><circle cx="695.7" cy="632.0" r="5"/><circle cx="696.7" cy="630.8" r="5"/><circle cx="697.8" cy="629.5" r="5"/><circle cx="698.8" cy="627.7" r="5"/><circle cx="699.9" cy="625.9" r="5"/></g><g stroke="#e8aa4a"><circle cx="700.9" cy="623.9" r="5"/><circle cx="702.0" cy="621.7" r="5"/><circle cx="703.0" cy="619.5" r="5"/><circle cx="704.1" cy="617.3" r="5"/><circle cx="705.1" cy="615.2" r="5"/></g><g stroke="#d9533f"><circle cx="706.2" cy="612.9" r="5"/><circle cx="707.2" cy="610.2" r="5"/><circle cx="708.3" cy="607.6" r="5"/><circle cx="709.3" cy="604.8" r="5"/><circle cx="710.4" cy="601.6" r="5"/><circle cx="711.4" cy="598.5" r="5"/><circle cx="712.5" cy="595.6" r="5"/><circle cx="713.5" cy="593.2" r="5"/><circle cx="714.6" cy="590.8" r="5"/><circle cx="715.6" cy="589.1" r="5"/><circle cx="716.7" cy="588.0" r="5"/><circle cx="717.7" cy="587.0" r="5"/><circle cx="718.8" cy="585.9" r="5"/><circle cx="719.8" cy="584.9" r="5"/><circle cx="720.9" cy="584.2" r="5"/><circle cx="721.9" cy="583.7" r="5"/><circle cx="723.0" cy="583.3" r="5"/><circle cx="724.0" cy="582.8" r="5"/><circle cx="725.1" cy="582.3" r="5"/><circle cx="726.1" cy="582.5" r="5"/><circle cx="727.2" cy="582.8" r="5"/><circle cx="728.2" cy="583.2" r="5"/><circle cx="729.3" cy="583.5" r="5"/><circle cx="730.3" cy="583.9" r="5"/><circle cx="731.4" cy="584.8" r="5"/><circle cx="732.4" cy="585.7" r="5"/><circle cx="733.5" cy="586.7" r="5"/><circle cx="734.5" cy="587.6" r="5"/><circle cx="735.6" cy="588.6" r="5"/><circle cx="736.6" cy="590.1" r="5"/><circle cx="737.7" cy="591.7" r="5"/><circle cx="738.7" cy="593.2" r="5"/><circle cx="739.8" cy="594.7" r="5"/><circle cx="740.8" cy="596.2" r="5"/><circle cx="741.9" cy="597.4" r="5"/><circle cx="742.9" cy="598.7" r="5"/><circle cx="744.0" cy="600.0" r="5"/><circle cx="745.0" cy="601.3" r="5"/><circle cx="746.1" cy="601.2" r="5"/><circle cx="747.1" cy="600.7" r="5"/><circle cx="748.2" cy="600.1" r="5"/><circle cx="749.2" cy="599.7" r="5"/><circle cx="750.3" cy="599.6" r="5"/><circle cx="751.3" cy="599.5" r="5"/><circle cx="752.4" cy="599.4" r="5"/><circle cx="753.4" cy="599.4" r="5"/><circle cx="754.5" cy="599.5" r="5"/><circle cx="755.5" cy="599.5" r="5"/><circle cx="756.6" cy="599.6" r="5"/><circle cx="757.6" cy="599.4" r="5"/><circle cx="758.7" cy="599.0" r="5"/><circle cx="759.7" cy="598.6" r="5"/><circle cx="760.8" cy="598.2" r="5"/><circle cx="761.8" cy="597.6" r="5"/><circle cx="762.9" cy="597.1" r="5"/><circle cx="763.9" cy="596.4" r="5"/><circle cx="765.0" cy="595.7" r="5"/><circle cx="766.0" cy="595.0" r="5"/><circle cx="767.1" cy="593.6" r="5"/><circle cx="768.1" cy="592.3" r="5"/><circle cx="769.2" cy="589.3" r="5"/><circle cx="770.2" cy="583.1" r="5"/><circle cx="771.3" cy="577.4" r="5"/><circle cx="772.3" cy="572.0" r="5"/><circle cx="773.4" cy="566.8" r="5"/><circle cx="774.4" cy="561.2" r="5"/><circle cx="775.5" cy="556.3" r="5"/><circle cx="776.5" cy="553.8" r="5"/><circle cx="777.6" cy="550.8" r="5"/><circle cx="778.6" cy="542.2" r="5"/><circle cx="779.7" cy="533.2" r="5"/><circle cx="780.7" cy="528.4" r="5"/><circle cx="781.8" cy="525.0" r="5"/><circle cx="782.8" cy="524.6" r="5"/><circle cx="783.9" cy="525.2" r="5"/><circle cx="784.9" cy="526.7" r="5"/><circle cx="786.0" cy="518.1" r="5"/><circle cx="787.0" cy="506.8" r="5"/><circle cx="788.1" cy="495.2" r="5"/><circle cx="789.1" cy="489.8" r="5"/><circle cx="790.2" cy="486.2" r="5"/><circle cx="791.2" cy="474.3" r="5"/><circle cx="792.3" cy="453.0" r="5"/><circle cx="793.3" cy="439.1" r="5"/><circle cx="794.4" cy="426.7" r="5"/><circle cx="795.4" cy="415.2" r="5"/><circle cx="796.5" cy="405.5" r="5"/><circle cx="797.5" cy="398.9" r="5"/><circle cx="798.6" cy="389.3" r="5"/><circle cx="799.6" cy="374.6" r="5"/><circle cx="800.7" cy="363.2" r="5"/><circle cx="801.8" cy="352.2" r="5"/><circle cx="802.8" cy="337.1" r="5"/><circle cx="803.9" cy="328.5" r="5"/><circle cx="804.9" cy="323.9" r="5"/><circle cx="806.0" cy="312.9" r="5"/><circle cx="807.0" cy="302.0" r="5"/><circle cx="808.1" cy="290.4" r="5"/><circle cx="809.1" cy="280.5" r="5"/><circle cx="810.2" cy="277.6" r="5"/><circle cx="811.2" cy="276.4" r="5"/><circle cx="812.3" cy="276.5" r="5"/><circle cx="813.3" cy="277.3" r="5"/><circle cx="814.4" cy="278.8" r="5"/><circle cx="815.4" cy="280.9" r="5"/><circle cx="816.5" cy="285.4" r="5"/><circle cx="817.5" cy="286.6" r="5"/><circle cx="818.6" cy="287.9" r="5"/><circle cx="819.6" cy="289.6" r="5"/><circle cx="820.7" cy="292.0" r="5"/><circle cx="821.7" cy="297.2" r="5"/><circle cx="822.8" cy="301.9" r="5"/><circle cx="823.8" cy="311.9" r="5"/><circle cx="824.9" cy="321.8" r="5"/><circle cx="825.9" cy="328.7" r="5"/><circle cx="827.0" cy="337.1" r="5"/><circle cx="828.0" cy="347.0" r="5"/><circle cx="829.1" cy="355.6" r="5"/><circle cx="830.1" cy="369.4" r="5"/><circle cx="831.2" cy="379.0" r="5"/><circle cx="832.2" cy="390.4" r="5"/><circle cx="833.3" cy="395.5" r="5"/><circle cx="834.3" cy="399.2" r="5"/><circle cx="835.4" cy="401.7" r="5"/><circle cx="836.4" cy="413.4" r="5"/><circle cx="837.5" cy="424.5" r="5"/><circle cx="838.5" cy="436.7" r="5"/><circle cx="839.6" cy="455.9" r="5"/><circle cx="840.6" cy="474.4" r="5"/><circle cx="841.7" cy="479.2" r="5"/></g>
</g>
<path d="M144 613.4 H841.6" stroke="#a6a6a6" stroke-width="2.7" stroke-dasharray="10 10" fill="none"/>
</svg>
</body></html>
